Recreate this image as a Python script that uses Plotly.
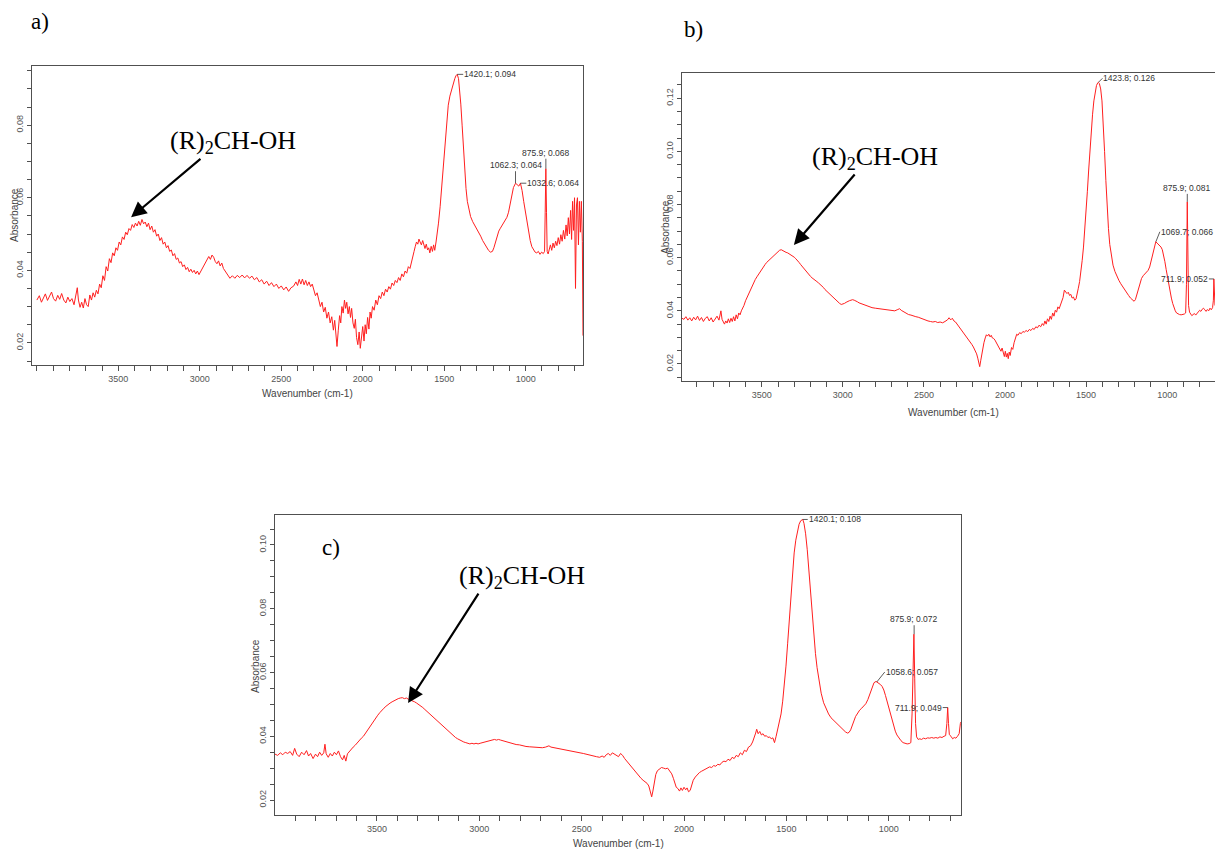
import plotly.graph_objects as go

W, H = 1215, 850

# ---------------- data (wavenumber cm-1, absorbance) ----------------
spec_a = [
    (4000, 0.0318), (3985, 0.0330), (3972, 0.0312), (3960, 0.0325), (3948, 0.0335), (3935, 0.0317),
    (3922, 0.0328), (3910, 0.0340), (3898, 0.0322), (3885, 0.0315), (3872, 0.0331), (3860, 0.0320),
    (3848, 0.0336), (3835, 0.0318), (3822, 0.0310), (3810, 0.0326), (3798, 0.0314), (3785, 0.0322),
    (3772, 0.0305), (3760, 0.0330), (3752, 0.0352), (3745, 0.0318), (3735, 0.0298), (3725, 0.0312),
    (3715, 0.0296), (3705, 0.0322), (3695, 0.0305), (3685, 0.0300), (3675, 0.0332), (3665, 0.0318),
    (3655, 0.0338), (3645, 0.0326), (3635, 0.0345), (3625, 0.0335), (3615, 0.0362), (3605, 0.0352),
    (3595, 0.0385), (3585, 0.0372), (3575, 0.0410), (3565, 0.0398), (3555, 0.0432), (3545, 0.0421),
    (3535, 0.0448), (3525, 0.0440), (3515, 0.0462), (3505, 0.0455), (3495, 0.0478), (3485, 0.0470),
    (3475, 0.0492), (3465, 0.0485), (3455, 0.0505), (3445, 0.0498), (3435, 0.0515), (3425, 0.0510),
    (3415, 0.0526), (3405, 0.0518), (3395, 0.0530), (3385, 0.0522), (3375, 0.0535), (3365, 0.0524),
    (3355, 0.0540), (3345, 0.0528), (3335, 0.0533), (3325, 0.0520), (3315, 0.0530), (3305, 0.0512),
    (3295, 0.0522), (3285, 0.0505), (3275, 0.0512), (3265, 0.0494), (3255, 0.0500), (3245, 0.0482),
    (3235, 0.0490), (3225, 0.0472), (3215, 0.0478), (3205, 0.0462), (3195, 0.0468), (3185, 0.0452),
    (3175, 0.0456), (3165, 0.0440), (3155, 0.0446), (3145, 0.0430), (3135, 0.0434), (3125, 0.0420),
    (3115, 0.0424), (3105, 0.0410), (3095, 0.0415), (3085, 0.0402), (3075, 0.0408), (3065, 0.0396),
    (3055, 0.0403), (3045, 0.0394), (3035, 0.0400), (3025, 0.0390), (3015, 0.0398), (3005, 0.0388),
    (2995, 0.0396), (2985, 0.0405), (2975, 0.0412), (2965, 0.0420), (2955, 0.0432), (2945, 0.0438),
    (2935, 0.0430), (2925, 0.0442), (2915, 0.0436), (2905, 0.0424), (2895, 0.0418), (2885, 0.0426),
    (2875, 0.0412), (2865, 0.0420), (2855, 0.0405), (2845, 0.0398), (2835, 0.0390), (2825, 0.0384),
    (2815, 0.0378), (2800, 0.0385), (2785, 0.0378), (2770, 0.0386), (2755, 0.0380), (2740, 0.0387),
    (2725, 0.0379), (2710, 0.0386), (2695, 0.0378), (2680, 0.0384), (2665, 0.0374), (2650, 0.0380),
    (2635, 0.0368), (2620, 0.0374), (2605, 0.0362), (2590, 0.0370), (2575, 0.0358), (2560, 0.0366),
    (2545, 0.0355), (2530, 0.0362), (2515, 0.0350), (2500, 0.0357), (2485, 0.0346), (2470, 0.0354),
    (2455, 0.0342), (2440, 0.0352), (2425, 0.0356), (2410, 0.0368), (2400, 0.0358), (2390, 0.0375),
    (2380, 0.0362), (2370, 0.0376), (2360, 0.0360), (2350, 0.0372), (2340, 0.0358), (2330, 0.0368),
    (2320, 0.0355), (2310, 0.0362), (2300, 0.0345), (2290, 0.0330), (2280, 0.0338), (2270, 0.0318),
    (2260, 0.0300), (2250, 0.0312), (2240, 0.0285), (2230, 0.0298), (2220, 0.0268), (2210, 0.0285),
    (2200, 0.0255), (2190, 0.0272), (2180, 0.0235), (2172, 0.0262), (2165, 0.0210), (2158, 0.0190),
    (2150, 0.0235), (2142, 0.0275), (2135, 0.0255), (2128, 0.0300), (2120, 0.0282), (2112, 0.0318),
    (2105, 0.0295), (2098, 0.0312), (2090, 0.0280), (2082, 0.0300), (2075, 0.0270), (2068, 0.0295),
    (2060, 0.0255), (2052, 0.0240), (2045, 0.0265), (2038, 0.0215), (2030, 0.0195), (2022, 0.0230),
    (2015, 0.0185), (2008, 0.0210), (2000, 0.0245), (1992, 0.0205), (1985, 0.0250), (1978, 0.0225),
    (1970, 0.0270), (1962, 0.0238), (1955, 0.0285), (1948, 0.0268), (1940, 0.0300), (1930, 0.0290),
    (1920, 0.0318), (1910, 0.0305), (1900, 0.0330), (1890, 0.0322), (1880, 0.0340), (1870, 0.0330),
    (1860, 0.0348), (1850, 0.0340), (1840, 0.0355), (1830, 0.0348), (1820, 0.0365), (1810, 0.0358),
    (1800, 0.0372), (1790, 0.0366), (1780, 0.0380), (1770, 0.0372), (1760, 0.0390), (1750, 0.0382),
    (1740, 0.0398), (1730, 0.0392), (1720, 0.0410), (1710, 0.0405), (1700, 0.0428), (1692, 0.0440),
    (1685, 0.0452), (1678, 0.0465), (1670, 0.0478), (1662, 0.0472), (1655, 0.0486), (1648, 0.0478),
    (1640, 0.0470), (1632, 0.0482), (1625, 0.0466), (1618, 0.0460), (1610, 0.0472), (1602, 0.0456),
    (1595, 0.0462), (1588, 0.0448), (1580, 0.0466), (1572, 0.0452), (1565, 0.0470), (1558, 0.0455),
    (1550, 0.0478), (1542, 0.0500), (1535, 0.0530), (1525, 0.0575), (1515, 0.0630), (1505, 0.0700),
    (1495, 0.0760), (1485, 0.0815), (1475, 0.0855), (1465, 0.0880), (1455, 0.0898), (1445, 0.0914),
    (1435, 0.0928), (1428, 0.0936), (1420, 0.0940), (1412, 0.0928), (1405, 0.0900), (1398, 0.0858),
    (1390, 0.0800), (1382, 0.0730), (1374, 0.0670), (1366, 0.0625), (1358, 0.0590), (1348, 0.0565),
    (1338, 0.0548), (1325, 0.0534), (1312, 0.0524), (1300, 0.0515), (1288, 0.0505), (1276, 0.0494),
    (1264, 0.0482), (1252, 0.0472), (1240, 0.0462), (1228, 0.0455), (1216, 0.0450), (1204, 0.0452),
    (1195, 0.0462), (1185, 0.0478), (1175, 0.0494), (1165, 0.0508), (1155, 0.0516), (1145, 0.0524),
    (1135, 0.0530), (1125, 0.0538), (1115, 0.0546), (1105, 0.0560), (1095, 0.0580), (1085, 0.0605),
    (1075, 0.0628), (1062, 0.0640), (1052, 0.0635), (1042, 0.0632), (1032, 0.0640), (1022, 0.0620),
    (1012, 0.0590), (1002, 0.0560), (992, 0.0530), (982, 0.0505), (972, 0.0482), (962, 0.0465),
    (952, 0.0455), (942, 0.0450), (932, 0.0448), (922, 0.0452), (912, 0.0444), (902, 0.0450),
    (892, 0.0446), (884, 0.0452), (880, 0.0560), (876, 0.0680), (872, 0.0560), (868, 0.0452),
    (862, 0.0445), (855, 0.0458), (848, 0.0470), (840, 0.0455), (832, 0.0475), (824, 0.0462),
    (816, 0.0480), (808, 0.0468), (800, 0.0490), (792, 0.0472), (784, 0.0498), (776, 0.0480),
    (768, 0.0510), (760, 0.0486), (752, 0.0525), (745, 0.0495), (738, 0.0545), (731, 0.0500),
    (724, 0.0565), (718, 0.0485), (712, 0.0590), (706, 0.0510), (700, 0.0600), (694, 0.0350),
    (688, 0.0580), (682, 0.0600), (676, 0.0470), (670, 0.0590), (664, 0.0505), (658, 0.0590),
    (652, 0.0480), (648, 0.0220),
]

spec_b = [
    (3992, 0.0372), (3980, 0.0368), (3968, 0.0378), (3956, 0.0365), (3944, 0.0374), (3932, 0.0362),
    (3920, 0.0376), (3908, 0.0366), (3896, 0.0380), (3884, 0.0364), (3872, 0.0375), (3860, 0.0360),
    (3848, 0.0372), (3836, 0.0378), (3824, 0.0362), (3812, 0.0374), (3800, 0.0358), (3788, 0.0370),
    (3776, 0.0380), (3764, 0.0365), (3752, 0.0400), (3745, 0.0368), (3738, 0.0356), (3730, 0.0350),
    (3722, 0.0362), (3714, 0.0354), (3706, 0.0370), (3698, 0.0356), (3690, 0.0372), (3682, 0.0360),
    (3674, 0.0378), (3666, 0.0362), (3658, 0.0385), (3650, 0.0370), (3642, 0.0392), (3634, 0.0385),
    (3626, 0.0400), (3618, 0.0408), (3610, 0.0420), (3600, 0.0438), (3590, 0.0452), (3580, 0.0468),
    (3570, 0.0482), (3560, 0.0494), (3550, 0.0506), (3540, 0.0518), (3530, 0.0528), (3520, 0.0538),
    (3510, 0.0548), (3500, 0.0558), (3490, 0.0566), (3480, 0.0574), (3470, 0.0582), (3460, 0.0588),
    (3450, 0.0594), (3440, 0.0600), (3430, 0.0606), (3420, 0.0612), (3410, 0.0618), (3400, 0.0624),
    (3390, 0.0628), (3380, 0.0630), (3370, 0.0626), (3360, 0.0624), (3350, 0.0620), (3340, 0.0618),
    (3330, 0.0614), (3320, 0.0612), (3310, 0.0606), (3300, 0.0602), (3290, 0.0596), (3280, 0.0590),
    (3270, 0.0582), (3260, 0.0574), (3250, 0.0566), (3240, 0.0558), (3230, 0.0550), (3220, 0.0544),
    (3210, 0.0538), (3200, 0.0530), (3190, 0.0524), (3180, 0.0518), (3170, 0.0514), (3160, 0.0510),
    (3150, 0.0505), (3140, 0.0500), (3130, 0.0494), (3120, 0.0488), (3110, 0.0480), (3100, 0.0474),
    (3090, 0.0468), (3080, 0.0462), (3070, 0.0456), (3060, 0.0450), (3050, 0.0444), (3040, 0.0438),
    (3030, 0.0432), (3020, 0.0428), (3010, 0.0424), (3000, 0.0425), (2990, 0.0428), (2980, 0.0432),
    (2970, 0.0436), (2960, 0.0438), (2950, 0.0440), (2940, 0.0442), (2930, 0.0440), (2920, 0.0438),
    (2910, 0.0434), (2900, 0.0430), (2880, 0.0425), (2860, 0.0420), (2840, 0.0416), (2820, 0.0412),
    (2800, 0.0410), (2780, 0.0408), (2760, 0.0406), (2740, 0.0405), (2720, 0.0404), (2700, 0.0402),
    (2680, 0.0400), (2665, 0.0404), (2650, 0.0408), (2640, 0.0402), (2625, 0.0396), (2610, 0.0390),
    (2595, 0.0386), (2580, 0.0384), (2565, 0.0380), (2550, 0.0378), (2535, 0.0376), (2520, 0.0372),
    (2505, 0.0368), (2490, 0.0364), (2475, 0.0362), (2460, 0.0360), (2445, 0.0358), (2430, 0.0360),
    (2415, 0.0356), (2400, 0.0358), (2385, 0.0355), (2370, 0.0360), (2355, 0.0366), (2345, 0.0374),
    (2335, 0.0366), (2325, 0.0372), (2315, 0.0362), (2305, 0.0358), (2295, 0.0350), (2285, 0.0342),
    (2275, 0.0334), (2265, 0.0326), (2255, 0.0318), (2245, 0.0308), (2235, 0.0300), (2225, 0.0292),
    (2215, 0.0284), (2205, 0.0274), (2195, 0.0264), (2185, 0.0252), (2175, 0.0238), (2168, 0.0222),
    (2162, 0.0205), (2156, 0.0190), (2150, 0.0212), (2144, 0.0238), (2138, 0.0258), (2130, 0.0280),
    (2122, 0.0298), (2115, 0.0310), (2108, 0.0305), (2100, 0.0312), (2092, 0.0302), (2085, 0.0308),
    (2078, 0.0298), (2070, 0.0296), (2062, 0.0290), (2055, 0.0282), (2048, 0.0276), (2040, 0.0268),
    (2032, 0.0256), (2025, 0.0248), (2018, 0.0260), (2010, 0.0238), (2004, 0.0228), (1998, 0.0248),
    (1992, 0.0226), (1986, 0.0240), (1980, 0.0220), (1974, 0.0245), (1968, 0.0232), (1960, 0.0262),
    (1952, 0.0255), (1944, 0.0280), (1936, 0.0300), (1928, 0.0312), (1920, 0.0308), (1910, 0.0318),
    (1900, 0.0314), (1890, 0.0322), (1880, 0.0320), (1870, 0.0326), (1860, 0.0322), (1850, 0.0330),
    (1840, 0.0326), (1830, 0.0334), (1820, 0.0330), (1810, 0.0340), (1800, 0.0336), (1790, 0.0346),
    (1780, 0.0340), (1770, 0.0352), (1762, 0.0345), (1754, 0.0362), (1746, 0.0350), (1738, 0.0370),
    (1730, 0.0360), (1722, 0.0380), (1714, 0.0368), (1706, 0.0392), (1698, 0.0380), (1690, 0.0402),
    (1682, 0.0395), (1674, 0.0415), (1666, 0.0408), (1658, 0.0425), (1650, 0.0435), (1642, 0.0450),
    (1634, 0.0478), (1626, 0.0470), (1618, 0.0465), (1610, 0.0470), (1602, 0.0458), (1594, 0.0462),
    (1586, 0.0448), (1578, 0.0452), (1570, 0.0440), (1562, 0.0445), (1555, 0.0460), (1548, 0.0485),
    (1540, 0.0510), (1532, 0.0545), (1524, 0.0590), (1516, 0.0640), (1508, 0.0700), (1500, 0.0770),
    (1492, 0.0850), (1484, 0.0930), (1476, 0.1010), (1468, 0.1080), (1460, 0.1140), (1452, 0.1190),
    (1444, 0.1225), (1436, 0.1248), (1428, 0.1258), (1424, 0.1260), (1418, 0.1255), (1410, 0.1235),
    (1402, 0.1190), (1394, 0.1110), (1386, 0.1000), (1378, 0.0890), (1370, 0.0790), (1362, 0.0710),
    (1354, 0.0650), (1344, 0.0605), (1334, 0.0572), (1322, 0.0548), (1310, 0.0530), (1298, 0.0515),
    (1286, 0.0502), (1274, 0.0490), (1262, 0.0478), (1250, 0.0468), (1238, 0.0458), (1226, 0.0448),
    (1214, 0.0440), (1204, 0.0436), (1196, 0.0442), (1188, 0.0458), (1178, 0.0480), (1168, 0.0505),
    (1158, 0.0522), (1148, 0.0532), (1138, 0.0540), (1128, 0.0546), (1118, 0.0552), (1108, 0.0565),
    (1098, 0.0590), (1088, 0.0620), (1078, 0.0645), (1070, 0.0660), (1062, 0.0655), (1054, 0.0650),
    (1046, 0.0646), (1038, 0.0640), (1030, 0.0630), (1022, 0.0612), (1014, 0.0585), (1006, 0.0555),
    (998, 0.0525), (990, 0.0495), (982, 0.0470), (974, 0.0448), (966, 0.0428), (958, 0.0412),
    (950, 0.0400), (942, 0.0392), (934, 0.0388), (924, 0.0386), (914, 0.0385), (904, 0.0386),
    (894, 0.0388), (886, 0.0392), (881, 0.0500), (876, 0.0810), (872, 0.0560), (868, 0.0420),
    (862, 0.0395), (855, 0.0388), (848, 0.0382), (840, 0.0386), (832, 0.0390), (824, 0.0384),
    (816, 0.0392), (808, 0.0396), (800, 0.0402), (792, 0.0398), (784, 0.0406), (776, 0.0410),
    (768, 0.0404), (760, 0.0398), (752, 0.0405), (744, 0.0400), (736, 0.0410), (728, 0.0404),
    (720, 0.0412), (715, 0.0440), (712, 0.0520), (708, 0.0440), (705, 0.0420),
]

spec_c = [
    (3998, 0.0344), (3985, 0.0340), (3972, 0.0348), (3960, 0.0342), (3948, 0.0350), (3936, 0.0346),
    (3924, 0.0352), (3912, 0.0340), (3902, 0.0362), (3892, 0.0344), (3880, 0.0336), (3868, 0.0350),
    (3856, 0.0342), (3844, 0.0355), (3834, 0.0338), (3824, 0.0346), (3812, 0.0330), (3800, 0.0344),
    (3790, 0.0336), (3780, 0.0350), (3770, 0.0340), (3760, 0.0348), (3754, 0.0375), (3748, 0.0345),
    (3738, 0.0334), (3728, 0.0346), (3718, 0.0338), (3708, 0.0350), (3698, 0.0342), (3688, 0.0354),
    (3678, 0.0336), (3668, 0.0326), (3660, 0.0340), (3652, 0.0322), (3644, 0.0345), (3636, 0.0352),
    (3626, 0.0360), (3616, 0.0366), (3606, 0.0372), (3596, 0.0380), (3586, 0.0386), (3576, 0.0394),
    (3566, 0.0400), (3556, 0.0410), (3546, 0.0420), (3536, 0.0430), (3526, 0.0440), (3516, 0.0450),
    (3506, 0.0458), (3496, 0.0466), (3486, 0.0474), (3476, 0.0482), (3466, 0.0488), (3456, 0.0494),
    (3446, 0.0500), (3436, 0.0504), (3426, 0.0508), (3416, 0.0512), (3406, 0.0515), (3396, 0.0518),
    (3386, 0.0520), (3376, 0.0521), (3366, 0.0518), (3356, 0.0520), (3346, 0.0516), (3336, 0.0514),
    (3326, 0.0512), (3316, 0.0508), (3306, 0.0504), (3296, 0.0500), (3286, 0.0496), (3276, 0.0490),
    (3266, 0.0484), (3256, 0.0478), (3246, 0.0472), (3236, 0.0466), (3226, 0.0460), (3216, 0.0454),
    (3206, 0.0448), (3196, 0.0442), (3186, 0.0436), (3176, 0.0430), (3166, 0.0424), (3156, 0.0418),
    (3146, 0.0412), (3136, 0.0406), (3126, 0.0400), (3116, 0.0396), (3106, 0.0392), (3096, 0.0388),
    (3086, 0.0384), (3076, 0.0382), (3066, 0.0380), (3056, 0.0378), (3046, 0.0376), (3036, 0.0378),
    (3026, 0.0376), (3016, 0.0378), (3006, 0.0376), (2996, 0.0378), (2986, 0.0380), (2976, 0.0382),
    (2966, 0.0384), (2956, 0.0386), (2946, 0.0388), (2936, 0.0390), (2926, 0.0390), (2916, 0.0388),
    (2906, 0.0390), (2896, 0.0388), (2886, 0.0386), (2876, 0.0384), (2866, 0.0382), (2856, 0.0380),
    (2846, 0.0378), (2836, 0.0376), (2820, 0.0374), (2804, 0.0373), (2788, 0.0370), (2772, 0.0368),
    (2756, 0.0367), (2740, 0.0366), (2724, 0.0365), (2708, 0.0366), (2692, 0.0364), (2676, 0.0366),
    (2660, 0.0370), (2650, 0.0366), (2636, 0.0364), (2620, 0.0362), (2604, 0.0360), (2588, 0.0358),
    (2572, 0.0356), (2556, 0.0354), (2540, 0.0352), (2524, 0.0350), (2508, 0.0348), (2492, 0.0346),
    (2476, 0.0343), (2460, 0.0340), (2444, 0.0338), (2428, 0.0336), (2412, 0.0334), (2400, 0.0338),
    (2390, 0.0334), (2380, 0.0342), (2370, 0.0346), (2360, 0.0340), (2350, 0.0348), (2340, 0.0344),
    (2330, 0.0342), (2320, 0.0336), (2310, 0.0346), (2300, 0.0340), (2290, 0.0330), (2280, 0.0322),
    (2270, 0.0314), (2260, 0.0306), (2250, 0.0298), (2240, 0.0290), (2230, 0.0282), (2220, 0.0276),
    (2210, 0.0268), (2200, 0.0262), (2190, 0.0258), (2180, 0.0252), (2172, 0.0244), (2165, 0.0226),
    (2158, 0.0210), (2152, 0.0228), (2145, 0.0260), (2138, 0.0280), (2130, 0.0292), (2120, 0.0298),
    (2110, 0.0302), (2100, 0.0300), (2090, 0.0298), (2080, 0.0300), (2070, 0.0292), (2060, 0.0282),
    (2052, 0.0268), (2045, 0.0252), (2038, 0.0240), (2030, 0.0236), (2022, 0.0228), (2015, 0.0238),
    (2008, 0.0230), (2000, 0.0240), (1992, 0.0232), (1985, 0.0238), (1978, 0.0226), (1970, 0.0230),
    (1962, 0.0248), (1955, 0.0262), (1945, 0.0272), (1935, 0.0280), (1925, 0.0286), (1915, 0.0290),
    (1905, 0.0294), (1895, 0.0298), (1885, 0.0300), (1875, 0.0304), (1865, 0.0302), (1855, 0.0308),
    (1845, 0.0306), (1835, 0.0312), (1825, 0.0310), (1815, 0.0318), (1805, 0.0322), (1795, 0.0320),
    (1785, 0.0328), (1775, 0.0324), (1765, 0.0334), (1755, 0.0330), (1745, 0.0340), (1735, 0.0336),
    (1725, 0.0348), (1715, 0.0342), (1705, 0.0356), (1695, 0.0352), (1685, 0.0366), (1675, 0.0370),
    (1665, 0.0382), (1657, 0.0395), (1650, 0.0410), (1645, 0.0422), (1638, 0.0408), (1630, 0.0415),
    (1622, 0.0404), (1614, 0.0408), (1606, 0.0400), (1598, 0.0402), (1590, 0.0396), (1582, 0.0398),
    (1574, 0.0392), (1566, 0.0395), (1558, 0.0380), (1550, 0.0400), (1542, 0.0422), (1534, 0.0440),
    (1526, 0.0470), (1518, 0.0510), (1510, 0.0560), (1502, 0.0620), (1494, 0.0690), (1486, 0.0770),
    (1478, 0.0850), (1470, 0.0920), (1462, 0.0975), (1454, 0.1015), (1446, 0.1045), (1438, 0.1065),
    (1430, 0.1076), (1420, 0.1080), (1414, 0.1068), (1406, 0.1035), (1398, 0.0985), (1390, 0.0920),
    (1382, 0.0850), (1374, 0.0780), (1366, 0.0715), (1358, 0.0660), (1350, 0.0615), (1340, 0.0570),
    (1330, 0.0535), (1318, 0.0505), (1306, 0.0485), (1294, 0.0470), (1282, 0.0458), (1270, 0.0450),
    (1258, 0.0442), (1246, 0.0434), (1234, 0.0428), (1222, 0.0420), (1212, 0.0414), (1202, 0.0410),
    (1194, 0.0412), (1186, 0.0420), (1178, 0.0432), (1170, 0.0448), (1162, 0.0462), (1152, 0.0474),
    (1142, 0.0482), (1132, 0.0488), (1122, 0.0494), (1112, 0.0502), (1102, 0.0515), (1092, 0.0535),
    (1082, 0.0555), (1072, 0.0568), (1062, 0.0572), (1056, 0.0570), (1048, 0.0566), (1040, 0.0562),
    (1032, 0.0556), (1024, 0.0545), (1016, 0.0528), (1008, 0.0508), (1000, 0.0488), (992, 0.0468),
    (984, 0.0450), (976, 0.0432), (968, 0.0416), (960, 0.0404), (950, 0.0394), (940, 0.0386),
    (930, 0.0380), (920, 0.0378), (910, 0.0376), (900, 0.0377), (892, 0.0380), (886, 0.0470),
    (882, 0.0600), (877, 0.0720), (873, 0.0580), (869, 0.0440), (864, 0.0398), (856, 0.0390),
    (848, 0.0392), (840, 0.0390), (830, 0.0394), (820, 0.0392), (810, 0.0395), (800, 0.0394),
    (790, 0.0396), (780, 0.0394), (770, 0.0396), (760, 0.0394), (750, 0.0398), (740, 0.0396),
    (730, 0.0400), (722, 0.0402), (716, 0.0440), (712, 0.0490), (708, 0.0440), (704, 0.0405),
    (696, 0.0400), (688, 0.0392), (680, 0.0396), (672, 0.0394), (664, 0.0400), (656, 0.0408),
    (650, 0.0440), (647, 0.0445),
]

# labelled peaks (wavenumber, absorbance)
peaks_a = [(1420.1, 0.094), (1062.3, 0.064), (1032.6, 0.064), (875.9, 0.068)]
peaks_b = [(1423.8, 0.126), (1069.7, 0.066), (875.9, 0.081), (711.9, 0.052)]
peaks_c = [(1420.1, 0.108), (1058.6, 0.057), (875.9, 0.072), (711.9, 0.049)]

# "(R)2CH-OH" arrow heads (wavenumber, absorbance)
group_arrow_a = (3422, 0.0546)
group_arrow_b = (3302, 0.0648)
group_arrow_c = (3348, 0.0504)

panel_labels = ["a)", "b)", "c)"]
group_label = "(R)<sub>2</sub>CH-OH"
x_title = "Wavenumber (cm-1)"
y_title = "Absorbance"
x_tickvals = [3500, 3000, 2500, 2000, 1500, 1000]
x_minor = 100
y_major, y_minor = 0.02, 0.005

# ---------------- layout / style ----------------
LINE_RED = "#ff1f1f"
AXC = "#505050"
TICKFONT = dict(family="Liberation Sans, Arial, sans-serif", size=9, color="#555555")
LBLFONT = dict(family="Liberation Sans, Arial, sans-serif", size=8.5, color="#333333")
TITLEFONT = dict(family="Liberation Sans, Arial, sans-serif", size=10, color="#444444")
SERIF = "Liberation Serif, Times New Roman, serif"
NBSP = "&nbsp;"


def px_dom_x(a, b):
    return [a / W, b / W]


def px_dom_y(top, bottom):
    return [1 - bottom / H, 1 - top / H]


panels = [
    dict(key="", spec=spec_a, peaks=peaks_a, xr=[4030, 648], yr=[0.0139, 0.0963],
         dx=px_dom_x(32, 583), dy=px_dom_y(66, 365), xmirror=True, ymirror=True,
         arrow=group_arrow_a, aoff=(89, -75), pad=4,
         offs=[(6, 0, "left", "middle"), (0, -12, "center", "bottom"),
               (6, 0, "left", "middle"), (0, -10, "center", "bottom")],
         ytitle=(14, 215), xtitle=(307, 393)),
    dict(key="2", spec=spec_b, peaks=peaks_b, xr=[3992, 705], yr=[0.0136, 0.1295],
         dx=[682 / W, 1.0], dy=px_dom_y(73, 381), xmirror=True, ymirror=False,
         arrow=group_arrow_b, aoff=(75, -87), pad=2,
         offs=[(4, -4, "left", "middle"), (4, -10, "left", "middle"),
               (0, -8, "center", "bottom"), (-5, 0, "right", "middle")],
         ytitle=(665, 227), xtitle=(953, 413)),
    dict(key="3", spec=spec_c, peaks=peaks_c, xr=[3998, 647], yr=[0.0153, 0.1094],
         dx=px_dom_x(275, 961), dy=px_dom_y(515, 815), xmirror=True, ymirror=True,
         arrow=group_arrow_c, aoff=(81, -126), pad=10,
         offs=[(5, 0, "left", "middle"), (8, -10, "left", "middle"),
               (0, -9, "center", "bottom"), (-5, 0, "right", "middle")],
         ytitle=(255, 666), xtitle=(618, 843)),
]

fig = go.Figure()
layout = dict(
    width=W, height=H, autosize=False,
    margin=dict(l=0, r=0, t=0, b=0, pad=0),
    paper_bgcolor="white", plot_bgcolor="white",
    showlegend=False, template="none",
)
annotations = []

for p in panels:
    k = p["key"]
    xname, yname = "x" + k, "y" + k
    wn = [v[0] for v in p["spec"]]
    ab = [v[1] for v in p["spec"]]
    fig.add_trace(go.Scatter(x=wn, y=ab, mode="lines", xaxis=xname, yaxis=yname,
                             line=dict(color=LINE_RED, width=1), hoverinfo="skip"))
    layout["xaxis" + k] = dict(
        domain=p["dx"], range=p["xr"], anchor=yname, showline=True, linecolor=AXC, linewidth=1,
        mirror=p["xmirror"], ticks="outside", ticklen=5, tickcolor=AXC, tickwidth=1,
        tickmode="array", tickvals=x_tickvals, ticktext=[str(v) for v in x_tickvals],
        showgrid=False, zeroline=False, tickfont=TICKFONT, automargin=False,
        minor=dict(dtick=x_minor, tick0=0, ticks="outside", ticklen=5, tickcolor=AXC, showgrid=False),
    )
    layout["yaxis" + k] = dict(
        domain=p["dy"], range=p["yr"], anchor=xname, showline=True, linecolor=AXC, linewidth=1,
        mirror=p["ymirror"], ticks="outside", ticklen=4, tickcolor=AXC, tickwidth=1,
        tick0=0, dtick=y_major, tickformat=".2f", tickangle=-90, showgrid=False, zeroline=False,
        tickfont=TICKFONT, automargin=False,
        minor=dict(dtick=y_minor, tick0=0, ticks="outside", ticklen=4, tickcolor=AXC, showgrid=False),
    )
    # peak labels
    for (pw, pa), (ax, ay, xa, ya) in zip(p["peaks"], p["offs"]):
        annotations.append(dict(
            x=pw, y=pa, xref=xname, yref=yname, text=f"{pw:.1f}; {pa:.3f}",
            showarrow=True, arrowhead=0, arrowwidth=0.8, arrowcolor="#333333",
            ax=ax, ay=ay, xanchor=xa, yanchor=ya, font=LBLFONT, borderpad=0,
        ))
    # (R)2CH-OH label with its arrow
    annotations.append(dict(
        x=p["arrow"][0], y=p["arrow"][1], xref=xname, yref=yname,
        text=NBSP * p["pad"] + group_label,
        showarrow=True, arrowhead=2, arrowsize=1.4, arrowwidth=2.2, arrowcolor="black",
        ax=p["aoff"][0], ay=p["aoff"][1], borderpad=0,
        font=dict(family=SERIF, size=26, color="black"),
    ))
    # axis titles (placed as in the picture, overlapping the tick labels slightly)
    annotations.append(dict(
        x=p["ytitle"][0] / W, y=1 - p["ytitle"][1] / H, xref="paper", yref="paper",
        text=y_title, textangle=-90, showarrow=False, font=TITLEFONT,
        xanchor="center", yanchor="middle",
    ))
    annotations.append(dict(
        x=p["xtitle"][0] / W, y=1 - p["xtitle"][1] / H, xref="paper", yref="paper",
        text=x_title, showarrow=False, font=TITLEFONT, xanchor="center", yanchor="middle",
    ))

# panel letters
for lbl, (lx, ly) in zip(panel_labels, [(40, 22), (693, 30), (331, 547)]):
    annotations.append(dict(
        x=lx / W, y=1 - ly / H, xref="paper", yref="paper", text=lbl, showarrow=False,
        font=dict(family=SERIF, size=23, color="black"), xanchor="center", yanchor="middle",
    ))

layout["annotations"] = annotations
fig.update_layout(**layout)

fig.write_html("out.html", config={"displayModeBar": False},
               post_script="document.body.style.margin='0';")
